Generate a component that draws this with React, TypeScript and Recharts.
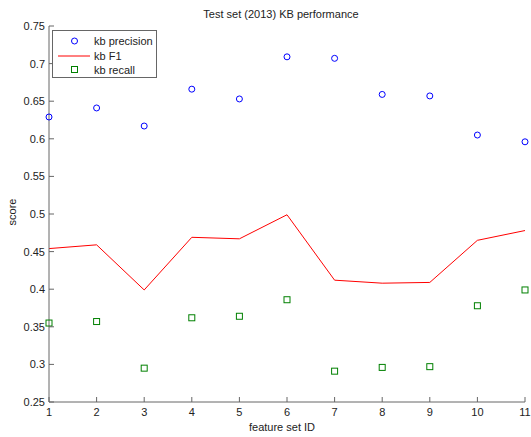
import React from 'react';
import { ComposedChart, Line, XAxis, YAxis } from 'recharts';

const featureSetIds = [1, 2, 3, 4, 5, 6, 7, 8, 9, 10, 11];
const precision = [0.629, 0.641, 0.617, 0.666, 0.653, 0.709, 0.707, 0.659, 0.657, 0.605, 0.596];
const f1 = [0.454, 0.459, 0.399, 0.469, 0.467, 0.499, 0.412, 0.408, 0.409, 0.465, 0.478];
const recall = [0.355, 0.357, 0.295, 0.362, 0.364, 0.386, 0.291, 0.296, 0.297, 0.378, 0.399];
const yTicks = [0.25, 0.3, 0.35, 0.4, 0.45, 0.5, 0.55, 0.6, 0.65, 0.7, 0.75];

const data = featureSetIds.map((id, i) => ({
  id,
  precision: precision[i],
  f1: f1[i],
  recall: recall[i],
}));

const FONT = '"Liberation Sans", Arial, Helvetica, sans-serif';
const AXIS = '#666666';
const TEXT = '#222222';

const BottomTick = (props: any) => {
  const { x, y, payload } = props;
  return (
    <g>
      <line x1={x} y1={y} x2={x} y2={y - 5} stroke={AXIS} />
      <text x={x} y={y + 14} textAnchor="middle" fontSize={11} fontFamily={FONT} fill={TEXT}>
        {payload.value}
      </text>
    </g>
  );
};

const TopTick = (props: any) => {
  const { x, y } = props;
  return <line x1={x} y1={y} x2={x} y2={y + 5} stroke={AXIS} />;
};

const LeftTick = (props: any) => {
  const { x, y, payload } = props;
  return (
    <g>
      <line x1={x} y1={y} x2={x + 5} y2={y} stroke={AXIS} />
      <text x={x - 4} y={y + 4} textAnchor="end" fontSize={11} fontFamily={FONT} fill={TEXT}>
        {String(payload.value)}
      </text>
    </g>
  );
};

const RightTick = (props: any) => {
  const { x, y } = props;
  return <line x1={x} y1={y} x2={x - 5} y2={y} stroke={AXIS} />;
};

const CircleDot = (props: any) => {
  const { cx, cy, index } = props;
  if (cx == null || cy == null) return <g key={`c${index}`} />;
  return <circle key={`c${index}`} cx={cx} cy={cy} r={3} fill="none" stroke="#0000ff" strokeWidth={1} />;
};

const SquareDot = (props: any) => {
  const { cx, cy, index } = props;
  if (cx == null || cy == null) return <g key={`s${index}`} />;
  return (
    <rect key={`s${index}`} x={cx - 3} y={cy - 3} width={6} height={6} fill="none" stroke="#008000" strokeWidth={1} />
  );
};

export default function App() {
  return (
    <div style={{ position: 'absolute', left: 0, top: 0, width: 531, height: 437, background: '#fff' }}>
      <ComposedChart
        width={531}
        height={437}
        data={data}
        margin={{ top: 26, right: 6, left: 0, bottom: 0 }}
      >
        <XAxis
          xAxisId="bottom"
          dataKey="id"
          type="number"
          domain={[1, 11]}
          ticks={featureSetIds}
          interval={0}
          height={35}
          stroke={AXIS}
          tickLine={false}
          tickSize={0}
          tickMargin={0}
          tick={<BottomTick />}
          label={{
            content: () => (
              <text x={282} y={431} textAnchor="middle" fontSize={11} fontFamily={FONT} fill={TEXT}>
                feature set ID
              </text>
            ),
          }}
        />
        <XAxis
          xAxisId="top"
          dataKey="id"
          type="number"
          orientation="top"
          domain={[1, 11]}
          ticks={featureSetIds}
          interval={0}
          height={0}
          stroke={AXIS}
          tickLine={false}
          tickSize={0}
          tickMargin={0}
          tick={<TopTick />}
        />
        <YAxis
          yAxisId="left"
          type="number"
          domain={[0.25, 0.75]}
          ticks={yTicks}
          interval={0}
          width={49}
          stroke={AXIS}
          tickLine={false}
          tickSize={0}
          tickMargin={0}
          tick={<LeftTick />}
          label={{
            content: () => (
              <text
                x={16}
                y={212}
                textAnchor="middle"
                fontSize={11}
                fontFamily={FONT}
                fill={TEXT}
                transform="rotate(-90 16 212)"
              >
                score
              </text>
            ),
          }}
        />
        <YAxis
          yAxisId="right"
          orientation="right"
          type="number"
          domain={[0.25, 0.75]}
          ticks={yTicks}
          interval={0}
          width={0}
          stroke={AXIS}
          tickLine={false}
          tickSize={0}
          tickMargin={0}
          tick={<RightTick />}
        />
        <Line
          xAxisId="bottom"
          yAxisId="left"
          dataKey="precision"
          stroke="none"
          dot={CircleDot}
          activeDot={false}
          isAnimationActive={false}
        />
        <Line
          xAxisId="bottom"
          yAxisId="left"
          dataKey="f1"
          stroke="#ff0000"
          strokeWidth={1}
          dot={false}
          activeDot={false}
          type="linear"
          isAnimationActive={false}
        />
        <Line
          xAxisId="bottom"
          yAxisId="left"
          dataKey="recall"
          stroke="none"
          dot={SquareDot}
          activeDot={false}
          isAnimationActive={false}
        />
        <text x={281} y={18} textAnchor="middle" fontSize={11} fontFamily={FONT} fill={TEXT}>
          Test set (2013) KB performance
        </text>
      </ComposedChart>
      <svg
        width={105}
        height={48}
        style={{ position: 'absolute', left: 52, top: 30 }}
      >
        <rect x={0.5} y={0.5} width={104} height={47} fill="#fff" stroke={AXIS} />
        <circle cx={22.5} cy={11} r={3} fill="none" stroke="#0000ff" />
        <text x={42} y={15} fontSize={11} fontFamily={FONT} fill={TEXT}>kb precision</text>
        <line x1={6} y1={26} x2={38} y2={26} stroke="#ff0000" />
        <text x={42} y={30} fontSize={11} fontFamily={FONT} fill={TEXT}>kb F1</text>
        <rect x={19.5} y={36.5} width={6} height={6} fill="none" stroke="#008000" />
        <text x={42} y={43.5} fontSize={11} fontFamily={FONT} fill={TEXT}>kb recall</text>
      </svg>
    </div>
  );
}
